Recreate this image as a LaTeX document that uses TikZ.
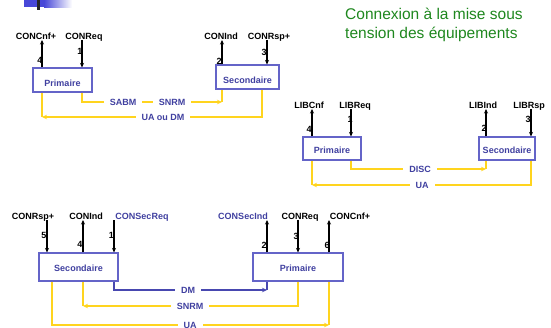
\documentclass[tikz,border=0pt]{standalone}
\usepackage{fontspec}
\setmainfont{Liberation Sans}
\usepackage{xcolor}
\usepackage{tikz}
\usetikzlibrary{arrows.meta}

\definecolor{txtblue}{RGB}{64,64,160}
\definecolor{boxblue}{RGB}{100,100,200}
\definecolor{lineyel}{RGB}{255,212,30}
\definecolor{lineblue}{RGB}{72,72,176}
\definecolor{titlegreen}{RGB}{30,135,30}
\definecolor{barblue}{RGB}{72,72,216}

\begin{document}
\begin{tikzpicture}[x=1pt,y=-1pt,font=\fontsize{9}{10}\selectfont\bfseries,
  box/.style={draw=boxblue,line width=1.1pt,fill=white,text=txtblue,inner sep=0pt,text depth=0pt},
  prim/.style={anchor=base,inner sep=0pt},
  num/.style={inner sep=0pt},
  sig/.style={line width=1.5pt,-{Stealth[length=4.5pt,width=4pt]}},
  ack/.style={draw=lineyel,line width=1.6pt},
  ackarr/.style={ack,-{Stealth[length=5pt,width=4.5pt]}},
  dmarr/.style={draw=lineblue,line width=1.4pt,-{Stealth[length=5pt,width=4.5pt]}},
  msg/.style={fill=white,text=txtblue,inner xsep=6pt,inner ysep=1pt}]
  \useasboundingbox (0,0) rectangle (551,327);

  % bandeau en haut a gauche
  \fill[barblue] (24,0) rectangle (44,7);
  \shade[left color=barblue,right color=white] (44,0) rectangle (72,7);
  \fill[black!85] (37,0) rectangle (40,10);

  % titre
  \node[anchor=base west,inner sep=0pt,text=titlegreen,font=\fontsize{15.5}{19}\selectfont] (title1) at (345,19) {Connexion à la mise sous};
  \node[anchor=base west,inner sep=0pt,text=titlegreen,font=\fontsize{15.5}{19}\selectfont] (title2) at (345,38.5) {tension des équipements};

  % --- etablissement (SABM / SNRM) ---
  \node[box,minimum width=59pt,minimum height=24pt,text height=13pt] (p1) at (62.5,80) {Primaire};
  \node[box,minimum width=63pt,minimum height=24pt,text height=13pt] (s1) at (247.5,77) {Secondaire};
  \coordinate (t14) at (42,40);
  \coordinate (t11) at (82,40);
  \coordinate (t12) at (222,40);
  \coordinate (t13) at (267,40);
  \node[prim] (l14) at (36,39) {CONCnf+};
  \node[prim] (l11) at (84,39) {CONReq};
  \node[prim] (l12) at (221,39) {CONInd};
  \node[prim] (l13) at (269,39) {CONRsp+};
  \node[num] (n14) at (40,60.5) {4};
  \node[num] (n11) at (80,51) {1};
  \node[num] (n12) at (219,61) {2};
  \node[num] (n13) at (264,52) {3};
  \draw[sig] (t14 |- p1.north) -- (t14);
  \draw[sig] (t11) -- (t11 |- p1.north);
  \draw[sig] (t12 |- s1.north) -- (t12);
  \draw[sig] (t13) -- (t13 |- s1.north);
  \coordinate (a1) at (82,102);
  \coordinate (b1) at (222,102);
  \coordinate (a2) at (262,117);
  \coordinate (b2) at (42,117);
  \draw[ackarr] (a1 |- p1.south) -- (a1) -- (b1);
  \draw[ack] (b1) -- (b1 |- s1.south);
  \draw[ackarr] (a2 |- s1.south) -- (a2) -- (b2);
  \draw[ack] (b2) -- (b2 |- p1.south);
  \node[msg] (m1) at (123,102) {SABM};
  \node[msg] (m2) at (172,102) {SNRM};
  \node[msg] (m3) at (163,117) {UA ou DM};

  % --- liberation (DISC) ---
  \node[box,minimum width=58pt,minimum height=23pt,text height=9pt] (p2) at (332,148.5) {Primaire};
  \node[box,minimum width=56pt,minimum height=23pt,text height=9pt] (s2) at (507,148.5) {Secondaire};
  \coordinate (t24) at (312,109);
  \coordinate (t21) at (351,109);
  \coordinate (t22) at (486,109);
  \coordinate (t23) at (531,109);
  \node[prim] (l24) at (309,108) {LIBCnf};
  \node[prim] (l21) at (355,108) {LIBReq};
  \node[prim] (l22) at (483,108) {LIBInd};
  \node[prim] (l23) at (529,108) {LIBRsp};
  \node[num] (n24) at (309,129) {4};
  \node[num] (n21) at (350,119) {1};
  \node[num] (n22) at (484,128) {2};
  \node[num] (n23) at (528,119) {3};
  \draw[sig] (t24 |- p2.north) -- (t24);
  \draw[sig] (t21) -- (t21 |- p2.north);
  \draw[sig] (t22 |- s2.north) -- (t22);
  \draw[sig] (t23) -- (t23 |- s2.north);
  \coordinate (a3) at (351,169);
  \coordinate (b3) at (486,169);
  \coordinate (a4) at (531,185);
  \coordinate (b4) at (312,185);
  \draw[ackarr] (a3 |- p2.south) -- (a3) -- (b3);
  \draw[ack] (b3) -- (b3 |- s2.south);
  \draw[ackarr] (a4 |- s2.south) -- (a4) -- (b4);
  \draw[ack] (b4) -- (b4 |- p2.south);
  \node[msg] (m4) at (420,169) {DISC};
  \node[msg] (m5) at (422,185) {UA};

  % --- connexion du secondaire (DM) ---
  \node[box,minimum width=79pt,minimum height=28pt,text height=9pt] (s3) at (78.5,267) {Secondaire};
  \node[box,minimum width=90pt,minimum height=28pt,text height=9pt] (p3) at (298,267) {Primaire};
  \coordinate (t35) at (47,220);
  \coordinate (t34) at (83,220);
  \coordinate (t31) at (114,220);
  \coordinate (t32) at (267,220);
  \coordinate (t33) at (298,220);
  \coordinate (t36) at (329,220);
  \node[prim] (l35) at (33,219) {CONRsp+};
  \node[prim] (l34) at (86,219) {CONInd};
  \node[prim,text=txtblue] (l31) at (142,219) {CONSecReq};
  \node[prim,text=txtblue] (l32) at (243,219) {CONSecInd};
  \node[prim] (l33) at (300,219) {CONReq};
  \node[prim] (l36) at (350,219) {CONCnf+};
  \node[num] (n35) at (44,235.5) {5};
  \node[num] (n34) at (80,244) {4};
  \node[num] (n31) at (111.5,235.5) {1};
  \node[num] (n32) at (264,245) {2};
  \node[num] (n33) at (296,236) {3};
  \node[num] (n36) at (327,245) {6};
  \draw[sig] (t35) -- (t35 |- s3.north);
  \draw[sig] (t34 |- s3.north) -- (t34);
  \draw[sig] (t31) -- (t31 |- s3.north);
  \draw[sig] (t32 |- p3.north) -- (t32);
  \draw[sig] (t33) -- (t33 |- p3.north);
  \draw[sig] (t36 |- p3.north) -- (t36);
  \coordinate (a5) at (114,290);
  \coordinate (b5) at (267,290);
  \coordinate (a6) at (298,306);
  \coordinate (b6) at (83,306);
  \coordinate (a7) at (52,325);
  \coordinate (b7) at (329,325);
  \draw[dmarr] (a5 |- s3.south) -- (a5) -- (b5);
  \draw[draw=lineblue,line width=1.4pt] (b5) -- (b5 |- p3.south);
  \draw[ackarr] (a6 |- p3.south) -- (a6) -- (b6);
  \draw[ack] (b6) -- (b6 |- s3.south);
  \draw[ackarr] (a7 |- s3.south) -- (a7) -- (b7);
  \draw[ack] (b7) -- (b7 |- p3.south);
  \node[msg] (m6) at (188,290) {DM};
  \node[msg] (m7) at (190,306) {SNRM};
  \node[msg] (m8) at (190,325) {UA};
\end{tikzpicture}
\end{document}
